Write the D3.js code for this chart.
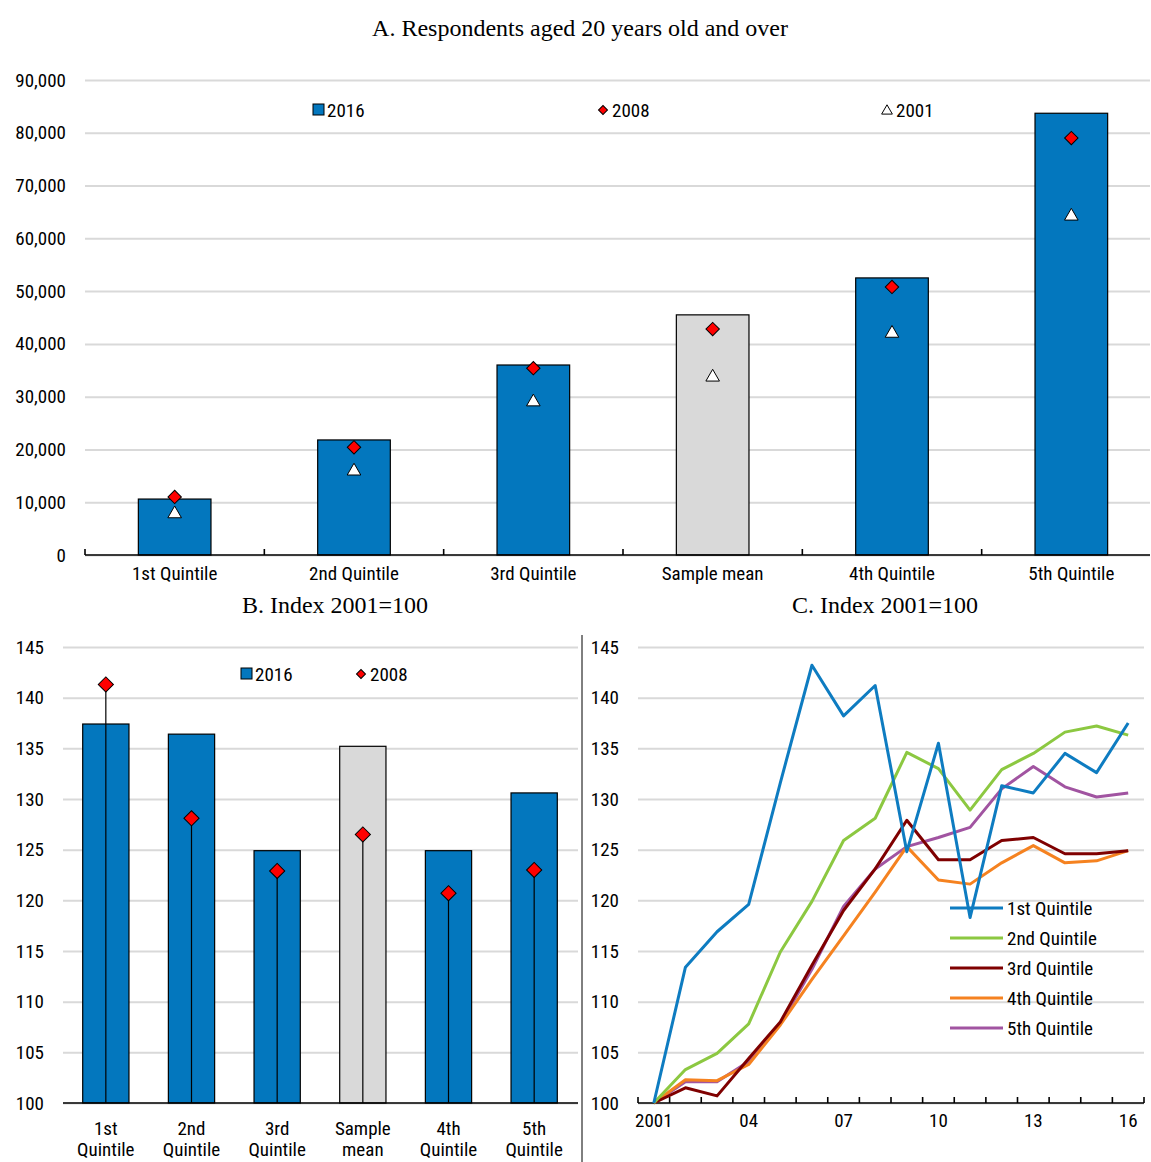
<!DOCTYPE html>
<html>
<head>
<meta charset="utf-8">
<script src="https://cdn.jsdelivr.net/npm/d3@7"></script>
<style>
  body { margin: 0; background: #fff; }
  text { font-family: "Liberation Sans Narrow", "Arial Narrow", "Roboto Condensed", sans-serif; fill: #000; }
  .title { font-family: "Liberation Serif", "Times New Roman", serif; font-size: 24px; }
</style>
</head>
<body>
<svg id="chart" width="1151" height="1162"></svg>
<script>
// Panel A: income level by quintile
var catsA = ["1st Quintile", "2nd Quintile", "3rd Quintile", "Sample mean", "4th Quintile", "5th Quintile"];
var a2016 = [10600, 21800, 36000, 45500, 52500, 83700];
var a2008 = [11000, 20400, 35400, 42800, 50800, 79000];
var a2001 = [7800, 15900, 29000, 33700, 42000, 64200];
var ticksA = [0, 10000, 20000, 30000, 40000, 50000, 60000, 70000, 80000, 90000];

// Panel B: index 2001=100
var catsB = [["1st", "Quintile"], ["2nd", "Quintile"], ["3rd", "Quintile"], ["Sample", "mean"], ["4th", "Quintile"], ["5th", "Quintile"]];
var b2016 = [137.4, 136.4, 124.9, 135.2, 124.9, 130.6];
var b2008 = [141.3, 128.1, 122.9, 126.5, 120.7, 123.0];
var ticksIdx = [100, 105, 110, 115, 120, 125, 130, 135, 140, 145];

// Panel C: index 2001=100, yearly
var years = [2001, 2002, 2003, 2004, 2005, 2006, 2007, 2008, 2009, 2010, 2011, 2012, 2013, 2014, 2015, 2016];
var yearLabels = {2001: "2001", 2004: "04", 2007: "07", 2010: "10", 2013: "13", 2016: "16"};
var q1 = [100, 113.4, 116.9, 119.6, 131.6, 143.2, 138.2, 141.2, 124.8, 135.5, 118.3, 131.3, 130.6, 134.5, 132.6, 137.5];
var q2 = [100, 103.3, 104.9, 107.8, 114.9, 119.9, 125.9, 128.1, 134.6, 133.0, 128.9, 132.9, 134.5, 136.6, 137.2, 136.3];
var q3 = [100, 101.5, 100.7, 104.4, 108.0, 113.6, 119.0, 123.1, 127.9, 124.0, 124.0, 125.9, 126.2, 124.6, 124.6, 124.9];
var q4 = [100, 102.3, 102.2, 103.8, 107.7, 112.2, 116.5, 120.8, 125.3, 122.0, 121.6, 123.7, 125.4, 123.7, 123.9, 124.9];
var q5 = [100, 102.1, 102.1, 104.1, 107.8, 113.2, 119.4, 123.1, 125.3, 126.2, 127.2, 131.0, 133.2, 131.2, 130.2, 130.6];
var seriesNames = ["1st Quintile", "2nd Quintile", "3rd Quintile", "4th Quintile", "5th Quintile"];
var seriesColors = ["#0E7CC1", "#8CC841", "#7F0000", "#F58220", "#A154A1"];

var BLUE = "#0377BE", GREY = "#D9D9D9", RED = "#FF0000", GRID = "#D9D9D9";
var svg = d3.select("#chart");

function diamond(size) { return d3.symbol().type(d3.symbolSquare).size(size)(); }
function triangle(size) { return d3.symbol().type(d3.symbolTriangle).size(size)(); }

// horizontal gridlines + left labels
function yGrid(g, y, x0, x1, values, fmt) {
    var ax = d3.axisLeft(y).tickValues(values).tickSize(-(x1 - x0)).tickPadding(19).tickFormat(fmt);
    var a = g.append("g").attr("transform", "translate(" + x0 + ",0)").call(ax);
    a.select(".domain").remove();
    a.selectAll("line").attr("stroke", GRID).attr("stroke-width", 2);
    a.selectAll("text").attr("font-size", 19).attr("font-family", null);
    return a;
}

// ---------------- Panel A ----------------
(function() {
    var g = svg.append("g");
    var x = d3.scaleBand().domain(catsA).range([85, 1161]);
    var y = d3.scaleLinear().domain([0, 90000]).range([555, 80]);
    var bw = x.bandwidth() * 0.405;

    g.append("text").attr("class", "title").attr("x", 580).attr("y", 36)
        .attr("text-anchor", "middle").text("A. Respondents aged 20 years old and over");

    yGrid(g, y, 85, 1150, ticksA, d3.format(","));

    g.selectAll("rect.bar").data(catsA).enter().append("rect")
        .attr("x", function(d) { return x(d) + x.bandwidth() / 2 - bw / 2; })
        .attr("y", function(d, i) { return y(a2016[i]); })
        .attr("width", bw)
        .attr("height", function(d, i) { return y(0) - y(a2016[i]); })
        .attr("fill", function(d) { return d === "Sample mean" ? GREY : BLUE; })
        .attr("stroke", "#000").attr("stroke-width", 1.2);

    // x axis with ticks between categories, pointing up
    g.append("line").attr("x1", 85).attr("x2", 1150).attr("y1", y(0)).attr("y2", y(0))
        .attr("stroke", "#000").attr("stroke-width", 1.6);
    g.selectAll("line.tk").data(catsA).enter().append("line")
        .attr("x1", function(d) { return x(d); }).attr("x2", function(d) { return x(d); })
        .attr("y1", y(0)).attr("y2", y(0) - 6)
        .attr("stroke", "#000").attr("stroke-width", 1.6);
    g.selectAll("text.xl").data(catsA).enter().append("text")
        .attr("x", function(d) { return x(d) + x.bandwidth() / 2; })
        .attr("y", 580).attr("text-anchor", "middle").attr("font-size", 19)
        .text(function(d) { return d; });

    g.selectAll("path.tri").data(catsA).enter().append("path")
        .attr("d", triangle(80))
        .attr("transform", function(d, i) { return "translate(" + (x(d) + x.bandwidth() / 2) + "," + y(a2001[i]) + ")"; })
        .attr("fill", "#fff").attr("stroke", "#000").attr("stroke-width", 1);
    g.selectAll("path.dia").data(catsA).enter().append("path")
        .attr("d", diamond(90))
        .attr("transform", function(d, i) { return "translate(" + (x(d) + x.bandwidth() / 2) + "," + y(a2008[i]) + ") rotate(45)"; })
        .attr("fill", RED).attr("stroke", "#000").attr("stroke-width", 1);

    // legend
    g.append("rect").attr("x", 313).attr("y", 104).attr("width", 11).attr("height", 11)
        .attr("fill", BLUE).attr("stroke", "#000");
    g.append("text").attr("x", 327).attr("y", 117).attr("font-size", 19).text("2016");
    g.append("path").attr("d", diamond(40)).attr("transform", "translate(603,110) rotate(45)")
        .attr("fill", RED).attr("stroke", "#000");
    g.append("text").attr("x", 612).attr("y", 117).attr("font-size", 19).text("2008");
    g.append("path").attr("d", triangle(50)).attr("transform", "translate(887,111)")
        .attr("fill", "#fff").attr("stroke", "#000");
    g.append("text").attr("x", 896).attr("y", 117).attr("font-size", 19).text("2001");
})();

// ---------------- Panel B ----------------
(function() {
    var g = svg.append("g");
    var x = d3.scaleBand().domain(d3.range(catsB.length)).range([63, 577]);
    var y = d3.scaleLinear().domain([100, 145]).range([1103, 647]);
    var bw = x.bandwidth() * 0.54;

    g.append("text").attr("class", "title").attr("x", 335).attr("y", 613)
        .attr("text-anchor", "middle").text("B. Index 2001=100");

    yGrid(g, y, 63, 578, ticksIdx, d3.format("d"));

    g.selectAll("rect.bar").data(b2016).enter().append("rect")
        .attr("x", function(d, i) { return x(i) + x.bandwidth() / 2 - bw / 2; })
        .attr("y", function(d) { return y(d); })
        .attr("width", bw)
        .attr("height", function(d) { return y(100) - y(d); })
        .attr("fill", function(d, i) { return catsB[i][0] === "Sample" ? GREY : BLUE; })
        .attr("stroke", "#000").attr("stroke-width", 1.2);

    g.selectAll("line.drop").data(b2008).enter().append("line")
        .attr("x1", function(d, i) { return x(i) + x.bandwidth() / 2; })
        .attr("x2", function(d, i) { return x(i) + x.bandwidth() / 2; })
        .attr("y1", y(100)).attr("y2", function(d) { return y(d); })
        .attr("stroke", "#000").attr("stroke-width", 1.2);

    g.append("line").attr("x1", 63).attr("x2", 578).attr("y1", y(100)).attr("y2", y(100))
        .attr("stroke", "#000").attr("stroke-width", 1.6);

    g.selectAll("path.dia").data(b2008).enter().append("path")
        .attr("d", diamond(115))
        .attr("transform", function(d, i) { return "translate(" + (x(i) + x.bandwidth() / 2) + "," + y(d) + ") rotate(45)"; })
        .attr("fill", RED).attr("stroke", "#000").attr("stroke-width", 1);

    var lab = g.selectAll("text.xl").data(catsB).enter().append("text")
        .attr("text-anchor", "middle").attr("font-size", 19);
    lab.append("tspan").attr("x", function(d, i) { return x(i) + x.bandwidth() / 2; })
        .attr("y", 1135).text(function(d) { return d[0]; });
    lab.append("tspan").attr("x", function(d, i) { return x(i) + x.bandwidth() / 2; })
        .attr("y", 1156).text(function(d) { return d[1]; });

    g.append("rect").attr("x", 241).attr("y", 668).attr("width", 11).attr("height", 11)
        .attr("fill", BLUE).attr("stroke", "#000");
    g.append("text").attr("x", 255).attr("y", 681).attr("font-size", 19).text("2016");
    g.append("path").attr("d", diamond(40)).attr("transform", "translate(361,674) rotate(45)")
        .attr("fill", RED).attr("stroke", "#000");
    g.append("text").attr("x", 370).attr("y", 681).attr("font-size", 19).text("2008");
})();

// ---------------- Panel C ----------------
(function() {
    var g = svg.append("g");
    var xb = d3.scaleBand().domain(years).range([638, 1144]);
    var cx = function(d) { return xb(d) + xb.bandwidth() / 2; };
    var y = d3.scaleLinear().domain([100, 145]).range([1103, 647]);

    g.append("line").attr("x1", 582).attr("x2", 582).attr("y1", 635).attr("y2", 1162)
        .attr("stroke", "#000").attr("stroke-width", 1);

    g.append("text").attr("class", "title").attr("x", 885).attr("y", 613)
        .attr("text-anchor", "middle").text("C. Index 2001=100");

    yGrid(g, y, 638, 1144, ticksIdx, d3.format("d"));

    g.append("line").attr("x1", 638).attr("x2", 1144).attr("y1", y(100)).attr("y2", y(100))
        .attr("stroke", "#000").attr("stroke-width", 1.6);
    g.selectAll("line.tk").data(years.concat(["end"])).enter().append("line")
        .attr("x1", function(d) { return d === "end" ? 1144 : xb(d); })
        .attr("x2", function(d) { return d === "end" ? 1144 : xb(d); })
        .attr("y1", y(100)).attr("y2", y(100) - 6)
        .attr("stroke", "#000").attr("stroke-width", 1.6);
    g.selectAll("text.xl").data(years.filter(function(d) { return yearLabels[d]; })).enter().append("text")
        .attr("x", cx).attr("y", 1127).attr("text-anchor", "middle").attr("font-size", 19)
        .text(function(d) { return yearLabels[d]; });

    var series = [q1, q2, q3, q4, q5];
    var line = d3.line().x(function(d, i) { return cx(years[i]); }).y(function(d) { return y(d); });
    // draw so that 1st quintile ends on top like the reference
    [4, 3, 2, 1, 0].forEach(function(k) {
        g.append("path").datum(series[k]).attr("d", line)
            .attr("fill", "none").attr("stroke", seriesColors[k]).attr("stroke-width", 3)
            .attr("stroke-linejoin", "round");
    });

    seriesNames.forEach(function(name, k) {
        var ly = 908 + k * 30;
        g.append("line").attr("x1", 950).attr("x2", 1003).attr("y1", ly).attr("y2", ly)
            .attr("stroke", seriesColors[k]).attr("stroke-width", 3);
        g.append("text").attr("x", 1007).attr("y", ly + 7).attr("font-size", 19).text(name);
    });
})();
</script>
</body>
</html>
